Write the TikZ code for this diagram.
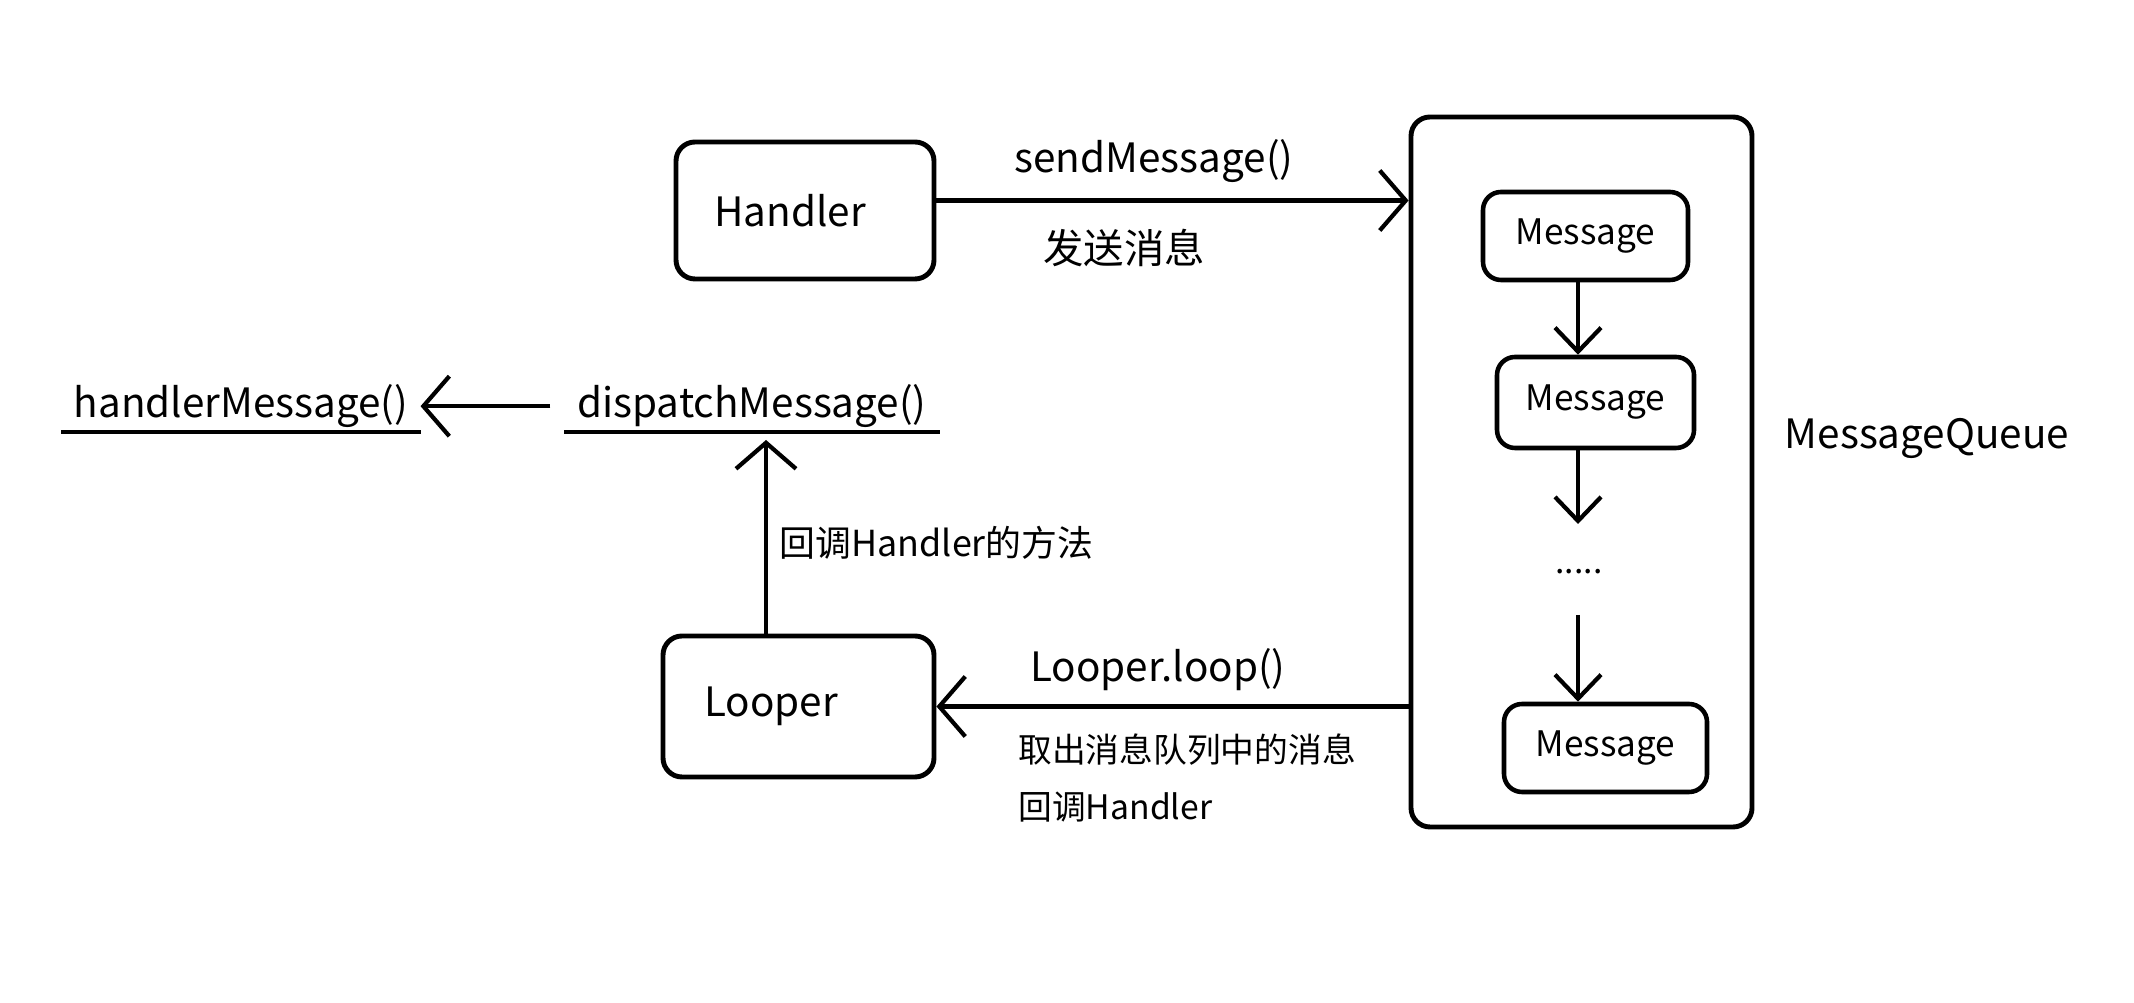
\documentclass[tikz,border=0pt]{standalone}
\usepackage{fontspec}
\setmainfont{Noto Sans CJK SC}
\usepackage{tikz}
\usetikzlibrary{arrows.meta, positioning}
\tikzstyle{block} = [rectangle, rounded corners=1.9mm, draw=black, line width=1.4pt, text centered, font=\fontsize{11.5}{14}\selectfont]
\tikzstyle{msg} = [rectangle, rounded corners=1.8mm, draw=black, line width=1.3pt, text centered, font=\fontsize{10}{12}\selectfont]
\tikzstyle{call} = [inner ysep=1pt, font=\fontsize{11.5}{14}\selectfont]
\tikzstyle{note} = [font=\fontsize{9.6}{12}\selectfont]
\tikzstyle{arrow} = [line width=1.2pt, -{Straight Barb[length=2.6mm, width=6mm]}]
\tikzstyle{smallarrow} = [line width=1.2pt, -{Straight Barb[length=2.4mm, width=4.6mm]}]

\begin{document}
\begin{tikzpicture}
  \useasboundingbox (0,0) rectangle (21.34,10.02);

  \node (handler) [block, minimum width=2.58cm, minimum height=1.37cm] at (8.05,7.915) {Handler\kern3mm};
  \node (looper) [block, minimum width=2.71cm, minimum height=1.41cm] at (7.985,2.955) {Looper\kern5.5mm};
  \node (queue) [block, minimum width=3.41cm, minimum height=7.10cm] at (15.815,5.30) {};
  \node (qlabel) [call] at (19.27,5.64) {MessageQueue};

  \node (msg1) [msg, minimum width=2.05cm, minimum height=0.88cm] at (15.855,7.66) {Message};
  \node (msg2) [msg, minimum width=1.97cm, minimum height=0.91cm] at (15.955,5.995) {Message};
  \node (dots) [note] at (15.79,4.30) {.....};
  \node (msg3) [msg, minimum width=2.03cm, minimum height=0.88cm] at (16.055,2.54) {Message};
  \coordinate (qx) at (15.78,0);
  \coordinate (gap1) at (15.78,4.78);
  \coordinate (gap2) at (15.78,3.87);

  \node (dispatch) [call, minimum width=3.74cm, anchor=south] at (7.52,5.70) {dispatchMessage()};
  \node (handlermsg) [call, minimum width=3.40cm, anchor=south] at (2.41,5.70) {handlerMessage()};
  \draw[line width=1.4pt] (dispatch.south west) -- (dispatch.south east);
  \draw[line width=1.4pt] (handlermsg.south west) -- (handlermsg.south east);

  \node (send) [call] at (11.54,8.41) {sendMessage()};
  \node (sendcn) [call] at (11.24,7.54) {发送消息};
  \node (loop) [call] at (11.58,3.32) {Looper.loop()};
  \node (fetch) [note, anchor=west] at (10.06,2.52) {取出消息队列中的消息};
  \node (back) [note, anchor=west] at (10.06,1.95) {回调Handler};

  \draw[arrow] ([yshift=1mm]handler.east) -- ([yshift=1mm]handler.east -| queue.west);
  \draw[arrow] (looper.east -| queue.west) -- (looper.east);
  \draw[arrow] ([xshift=-3.25mm]looper.north) -- ([xshift=-3.25mm, yshift=-0.8mm]looper.north |- dispatch.south)
    node[note, right, pos=0.47, font=\fontsize{10.2}{13}\selectfont] {回调Handler的方法};
  \draw[arrow] ([xshift=-1.4mm]dispatch.west) -- (handlermsg.east);

  \draw[smallarrow] (msg1.south -| qx) -- (msg2.north -| qx);
  \draw[smallarrow] (msg2.south -| qx) -- (gap1);
  \draw[smallarrow] (gap2) -- (msg3.north -| qx);

\end{tikzpicture}
\end{document}
